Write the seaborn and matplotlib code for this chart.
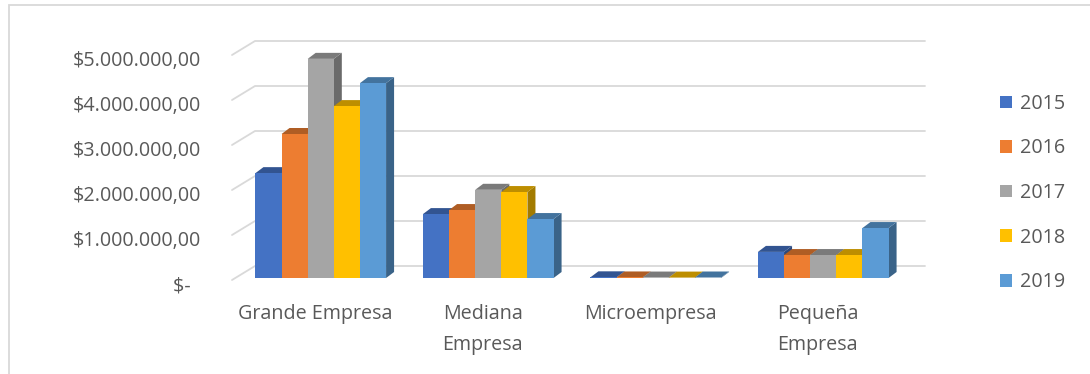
import matplotlib.pyplot as plt
import matplotlib.colors as mcolors
import pandas as pd
import seaborn as sns
from matplotlib.lines import Line2D
from matplotlib.patches import Patch, Polygon, Rectangle
from matplotlib.transforms import IdentityTransform, ScaledTranslation

categories = ["Grande Empresa", "Mediana Empresa", "Microempresa", "Pequeña Empresa"]
cat_labels = ["Grande Empresa", "Mediana\nEmpresa", "Microempresa", "Pequeña\nEmpresa"]
years = ["2015", "2016", "2017", "2018", "2019"]
v2015 = [2330000, 1420000, 15000, 580000]
v2016 = [3200000, 1510000, 12000, 510000]
v2017 = [4870000, 1960000, 10000, 510000]
v2018 = [3820000, 1910000, 9000, 510000]
v2019 = [4330000, 1310000, 11000, 1110000]
y_ticks = [0, 1000000, 2000000, 3000000, 4000000, 5000000]
y_labels = ["$-  ", "$1.000.000,00", "$2.000.000,00", "$3.000.000,00", "$4.000.000,00", "$5.000.000,00"]

colors = ["#4472C4", "#ED7D31", "#A5A5A5", "#FFC000", "#5B9BD5"]
TEXT = "#595959"
GRID = "#D9D9D9"
FONT = ["Open Sans", "DejaVu Sans"]
FS = 14.2

rows = []
for year, vals in zip(years, [v2015, v2016, v2017, v2018, v2019]):
    for cat, v in zip(categories, vals):
        rows.append({"categoria": cat, "anio": year, "valor": v})
df = pd.DataFrame(rows)


def shade(c, f):
    r, g, b = mcolors.to_rgb(c)
    return (r * f, g * f, b * f)


sns.set_style("white")
plt.rcParams["font.family"] = FONT

fig = plt.figure(figsize=(10.9, 3.74), dpi=100)
W, H = 1090, 374
left_px, right_px, floor_px, top_px = 237, 907, 278, 53
ax = fig.add_axes([left_px / W, 1 - floor_px / H, (right_px - left_px) / W, (floor_px - top_px) / H])

sns.barplot(data=df, x="categoria", y="valor", hue="anio", order=categories, hue_order=years,
            palette=colors, width=0.78, saturation=1, linewidth=0, ax=ax, legend=False)
ax.set_xlim(-0.5, 3.5)
ax.set_ylim(0, 5000000)
ax.set_yticks(y_ticks)
ax.set_yticklabels(y_labels)
ax.set_xticks(range(len(categories)))
ax.set_xticklabels(cat_labels, linespacing=1.68)
ax.tick_params(axis="y", length=0, pad=26, labelsize=FS, labelcolor=TEXT)
ax.tick_params(axis="x", length=0, pad=19, labelsize=FS, labelcolor=TEXT)
for lab in ax.get_yticklabels():
    lab.set_transform(lab.get_transform() + ScaledTranslation(0, -4 / 72, fig.dpi_scale_trans))
for lab in ax.get_xticklabels():
    lab.set_transform(lab.get_transform() + ScaledTranslation(-4 / 72, 0, fig.dpi_scale_trans))
ax.set_xlabel("")
ax.set_ylabel("")
ax.grid(False)
sns.despine(ax=ax, left=True, bottom=True)
ax.patch.set_alpha(0)

ident = IdentityTransform()
# gridlines on the back wall plus the small diagonal on the left side
gdx, gdy = 23, 14
for t in y_ticks:
    xf, yf = ax.transData.transform((-0.5, t))
    xf -= 5
    yf -= 2
    ax.add_line(Line2D([xf, xf + gdx, 925], [yf, yf + gdy, yf + gdy], transform=ident,
                       color=GRID, lw=1.3, zorder=0.5, clip_on=False))

# 3d faces for each bar
bdx, bdy = 8, 6
bars = sorted(ax.patches, key=lambda p: p.get_x())
hue_of = {}
for container, c in zip(ax.containers, colors):
    for p in container:
        hue_of[id(p)] = c
for i, p in enumerate(bars):
    c = hue_of.get(id(p), p.get_facecolor())
    x0, y0 = p.get_x(), p.get_y()
    x1, y1 = x0 + p.get_width(), y0 + p.get_height()
    (px0, py0), (px1, py1) = ax.transData.transform([(x0, y0), (x1, y1)])
    z = 3 + i * 0.01
    top = Polygon([(px0, py1), (px1, py1), (px1 + bdx, py1 + bdy), (px0 + bdx, py1 + bdy)],
                  closed=True, transform=ident, facecolor=shade(c, 0.74), edgecolor="none",
                  zorder=z, clip_on=False)
    side = Polygon([(px1, py0), (px1, py1), (px1 + bdx, py1 + bdy), (px1 + bdx, py0 + bdy)],
                   closed=True, transform=ident, facecolor=shade(c, 0.64), edgecolor="none",
                   zorder=z, clip_on=False)
    ax.add_patch(side)
    ax.add_patch(top)
    p.set_zorder(z + 0.005)

handles = [Patch(facecolor=c, edgecolor="none") for c in colors]
fig.legend(handles, years, loc="upper left", bbox_to_anchor=(982 / W, 1 - 76 / H), frameon=False,
           fontsize=FS, labelcolor=TEXT, handlelength=0.6, handleheight=0.6, handletextpad=0.45,
           labelspacing=1.25)

fig.add_artist(Rectangle((8.5 / W, -0.05), 1.2, (374 - 5.5) / H + 0.05, transform=fig.transFigure,
                         fill=False, edgecolor=GRID, lw=1.3))

fig.savefig("out.png", dpi=100)
